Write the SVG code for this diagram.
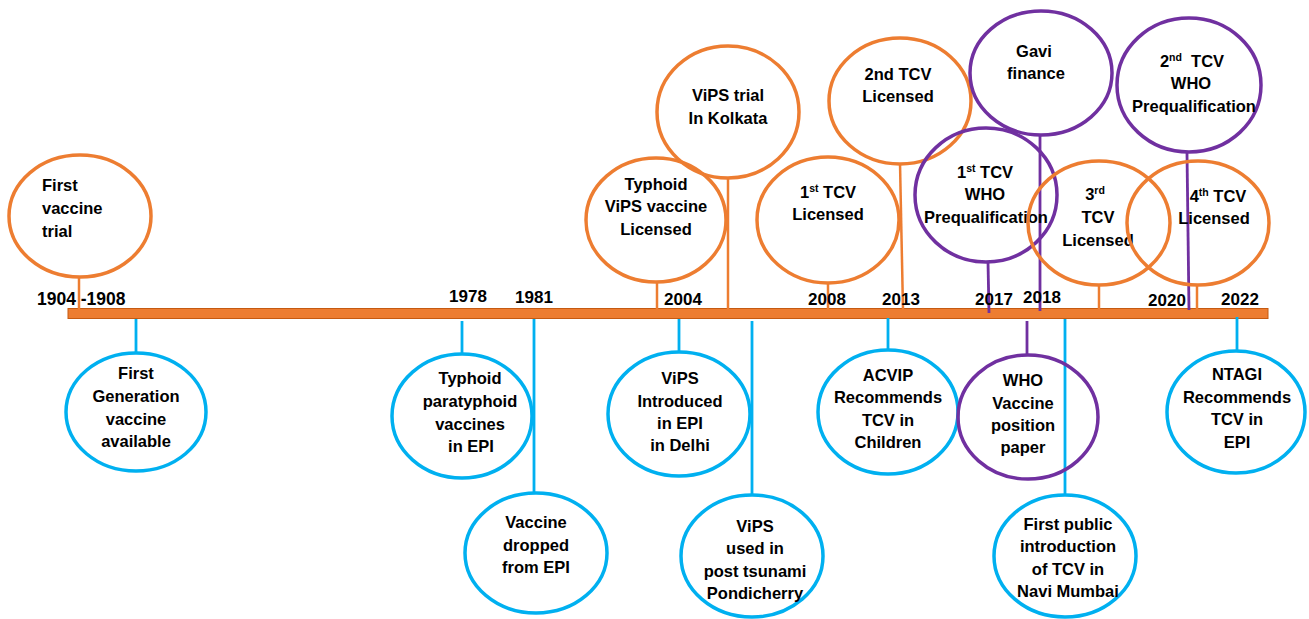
<svg xmlns="http://www.w3.org/2000/svg" width="1309" height="619" viewBox="0 0 1309 619">
<style>
text{font-family:"Liberation Sans",Arial,sans-serif;font-weight:bold;font-size:16.5px;fill:#000}
.c{text-anchor:middle}
.yr{font-size:17px;text-anchor:middle}
.o{fill:none;stroke:#ED7D31;stroke-width:3.5}
.p{fill:none;stroke:#7030A0;stroke-width:3.5}
.b{fill:none;stroke:#00B0F0;stroke-width:3.5}
.lo{stroke:#ED7D31;stroke-width:2.5}
.lp{stroke:#7030A0;stroke-width:2.8}
.lb{stroke:#00B0F0;stroke-width:2.8}
.sup{font-size:10.5px}
</style>
<rect width="1309" height="619" fill="#fff"/>
<g id="timeline">
<rect x="68" y="308.5" width="1200" height="10" fill="#ED7D31" stroke="#C55A11" stroke-width="1"/>
</g>
<g id="connectors">
<line class="lo" x1="79" y1="278" x2="79" y2="310"/>
<line class="lo" x1="657" y1="282" x2="657" y2="310"/>
<line class="lo" x1="728" y1="178" x2="728" y2="310"/>
<line class="lo" x1="828" y1="283" x2="828" y2="310"/>
<line class="lo" x1="900" y1="163" x2="903" y2="310"/>
<line class="lo" x1="1099" y1="285" x2="1099" y2="310"/>
<line class="lo" x1="1197" y1="286" x2="1197" y2="310"/>
<line class="lp" x1="988" y1="262" x2="989" y2="313"/>
<line class="lp" x1="1040" y1="135" x2="1040" y2="311"/>
<line class="lp" x1="1187" y1="153" x2="1189" y2="310"/>
<line class="lp" x1="1027" y1="321" x2="1027" y2="356"/>
<line class="lb" x1="136" y1="319" x2="136" y2="353"/>
<line class="lb" x1="462" y1="321" x2="462" y2="355"/>
<line class="lb" x1="534" y1="319" x2="534" y2="493"/>
<line class="lb" x1="679" y1="319" x2="679" y2="353"/>
<line class="lb" x1="752" y1="321" x2="752" y2="495"/>
<line class="lb" x1="888" y1="318" x2="888" y2="350"/>
<line class="lb" x1="1065" y1="319" x2="1065" y2="495"/>
<line class="lb" x1="1237" y1="317" x2="1237" y2="351"/>
</g>
<g id="years">
<text x="37" y="305" style="font-size:17.5px">1904 -1908</text>
<text class="yr" x="468" y="302">1978</text>
<text class="yr" x="534" y="303">1981</text>
<text class="yr" x="683" y="305">2004</text>
<text class="yr" x="827" y="305">2008</text>
<text class="yr" x="901" y="305">2013</text>
<text class="yr" x="994" y="305">2017</text>
<text class="yr" x="1042" y="303">2018</text>
<text class="yr" x="1167" y="306">2020</text>
<text class="yr" x="1240" y="305">2022</text>
</g>
<g id="n-first-trial">
<ellipse class="o" cx="80" cy="216" rx="71" ry="61"/>
<text x="42" y="191">First</text>
<text x="42" y="214">vaccine</text>
<text x="42" y="237">trial</text>
</g>
<g id="n-vips-licensed">
<ellipse class="o" cx="656" cy="220" rx="70" ry="62"/>
<text class="c" x="656" y="190">Typhoid</text>
<text class="c" x="656" y="212">ViPS vaccine</text>
<text class="c" x="656" y="235">Licensed</text>
</g>
<g id="n-vips-trial">
<ellipse class="o" cx="728" cy="112" rx="71" ry="66"/>
<text class="c" x="728" y="101">ViPS trial</text>
<text class="c" x="728" y="124">In Kolkata</text>
</g>
<g id="n-1st-tcv">
<ellipse class="o" cx="828" cy="220" rx="71" ry="63"/>
<text class="c" x="828" y="198">1<tspan class="sup" dy="-6">st</tspan><tspan dy="6"> TCV</tspan></text>
<text class="c" x="828" y="220">Licensed</text>
</g>
<g id="n-2nd-tcv">
<ellipse class="o" cx="900" cy="101" rx="71" ry="63"/>
<text class="c" x="898" y="80">2nd TCV</text>
<text class="c" x="898" y="102">Licensed</text>
</g>
<g id="n-1st-who">
<ellipse class="p" cx="986" cy="195" rx="71" ry="67"/>
<text class="c" x="985" y="178">1<tspan class="sup" dy="-6">st</tspan><tspan dy="6"> TCV</tspan></text>
<text class="c" x="985" y="200">WHO</text>
<text class="c" x="986" y="223">Prequalification</text>
</g>
<g id="n-gavi">
<ellipse class="p" cx="1041" cy="73" rx="71" ry="62"/>
<text class="c" x="1034" y="57">Gavi</text>
<text class="c" x="1036" y="79">finance</text>
</g>
<g id="n-2nd-who">
<ellipse class="p" cx="1189" cy="85" rx="72" ry="67"/>
<text class="c" x="1192" y="67">2<tspan class="sup" dy="-6">nd</tspan><tspan dy="6">&#160; TCV</tspan></text>
<text class="c" x="1191" y="89">WHO</text>
<text class="c" x="1194" y="112">Prequalification</text>
</g>
<g id="n-3rd-tcv">
<ellipse class="o" cx="1099" cy="223" rx="71" ry="62"/>
<text class="c" x="1095" y="200">3<tspan class="sup" dy="-6">rd</tspan></text>
<text class="c" x="1098" y="223">TCV</text>
<text class="c" x="1098" y="246">Licensed</text>
</g>
<g id="n-4th-tcv">
<ellipse class="o" cx="1198" cy="223" rx="71" ry="62"/>
<text class="c" x="1218" y="202">4<tspan class="sup" dy="-6">th</tspan><tspan dy="6"> TCV</tspan></text>
<text class="c" x="1214" y="224">Licensed</text>
</g>
<g id="n-first-gen">
<ellipse class="b" cx="136" cy="412" rx="70" ry="59"/>
<text class="c" x="136" y="379">First</text>
<text class="c" x="136" y="402">Generation</text>
<text class="c" x="136" y="425">vaccine</text>
<text class="c" x="136" y="447">available</text>
</g>
<g id="n-paratyphoid">
<ellipse class="b" cx="462" cy="416" rx="70" ry="62"/>
<text class="c" x="470" y="384">Typhoid</text>
<text class="c" x="470" y="407">paratyphoid</text>
<text class="c" x="470" y="430">vaccines</text>
<text class="c" x="471" y="452">in EPI</text>
</g>
<g id="n-dropped">
<ellipse class="b" cx="536" cy="553" rx="71" ry="60"/>
<text class="c" x="536" y="528">Vaccine</text>
<text class="c" x="536" y="551">dropped</text>
<text class="c" x="536" y="573">from EPI</text>
</g>
<g id="n-vips-delhi">
<ellipse class="b" cx="679" cy="414" rx="71" ry="62"/>
<text class="c" x="680" y="384">ViPS</text>
<text class="c" x="680" y="407">Introduced</text>
<text class="c" x="680" y="429">in EPI</text>
<text class="c" x="680" y="451">in Delhi</text>
</g>
<g id="n-vips-tsunami">
<ellipse class="b" cx="752" cy="556" rx="71" ry="61"/>
<text class="c" x="755" y="532">ViPS</text>
<text class="c" x="755" y="554">used in</text>
<text class="c" x="755" y="577">post tsunami</text>
<text class="c" x="755" y="599">Pondicherry</text>
</g>
<g id="n-acvip">
<ellipse class="b" cx="888" cy="412" rx="70" ry="62"/>
<text class="c" x="888" y="381">ACVIP</text>
<text class="c" x="888" y="403">Recommends</text>
<text class="c" x="888" y="426">TCV in</text>
<text class="c" x="888" y="448">Children</text>
</g>
<g id="n-who-paper">
<ellipse class="p" cx="1028" cy="417" rx="70" ry="62"/>
<text class="c" x="1023" y="386">WHO</text>
<text class="c" x="1023" y="409">Vaccine</text>
<text class="c" x="1023" y="431">position</text>
<text class="c" x="1023" y="453">paper</text>
</g>
<g id="n-navi-mumbai">
<ellipse class="b" cx="1065" cy="556" rx="71" ry="61"/>
<text class="c" x="1068" y="530">First public</text>
<text class="c" x="1068" y="552">introduction</text>
<text class="c" x="1068" y="575">of TCV in</text>
<text class="c" x="1068" y="597">Navi Mumbai</text>
</g>
<g id="n-ntagi">
<ellipse class="b" cx="1236" cy="412" rx="69" ry="61"/>
<text class="c" x="1237" y="380">NTAGI</text>
<text class="c" x="1237" y="403">Recommends</text>
<text class="c" x="1237" y="425">TCV in</text>
<text class="c" x="1237" y="448">EPI</text>
</g>
</svg>
